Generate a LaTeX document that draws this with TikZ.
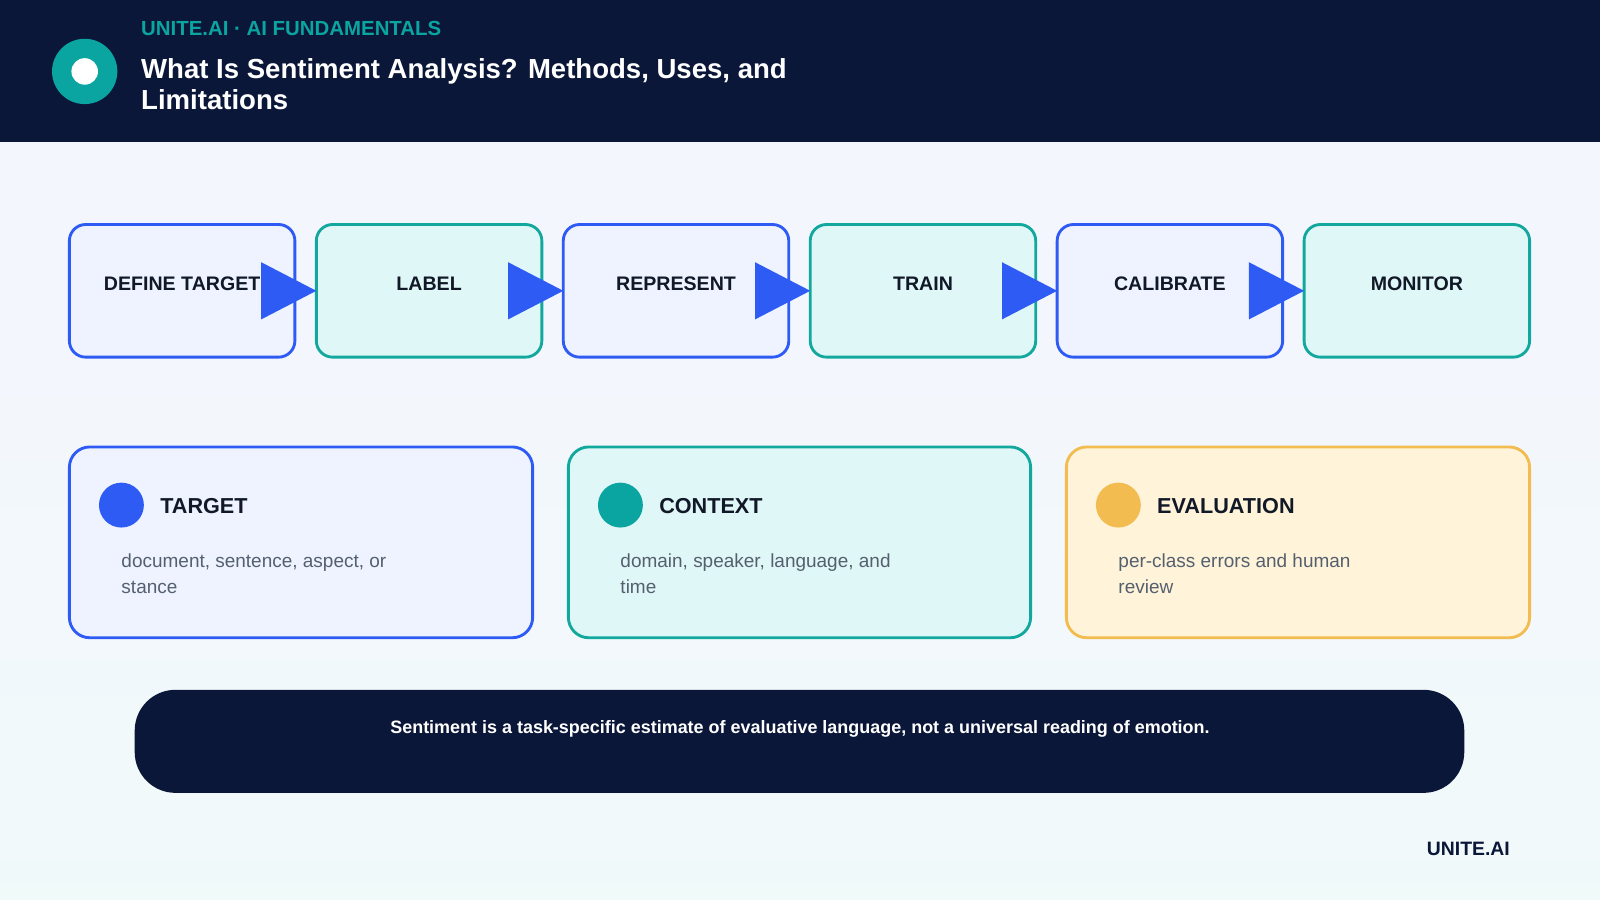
\documentclass[tikz,border=0pt]{standalone}
\usepackage{fontspec}
\setmainfont{Liberation Sans}
\definecolor{navy}{HTML}{0B1739}
\definecolor{teal}{HTML}{0AA5A0}
\definecolor{blueb}{HTML}{2F5BF5}
\definecolor{bluef}{HTML}{EEF3FF}
\definecolor{tealb}{HTML}{12A89E}
\definecolor{tealf}{HTML}{E0F7F7}
\definecolor{orb}{HTML}{F2BC50}
\definecolor{orf}{HTML}{FFF4DA}
\definecolor{txt}{HTML}{111827}
\definecolor{gr}{HTML}{55606E}
\begin{document}
\begin{tikzpicture}[x=0.5pt,y=-0.5pt,
  step/.style={draw=#1b,fill=#1f,line width=1.4pt,rounded corners=8pt},
  stxt/.style={font=\fontsize{9.6}{11}\selectfont\bfseries,text=txt},
  card/.style={draw=#1,line width=1.4pt,rounded corners=10pt},
  ctitle/.style={font=\fontsize{10.6}{12}\selectfont\bfseries,text=txt,anchor=west},
  cbody/.style={font=\fontsize{9.3}{12.5}\selectfont,text=gr,anchor=north west,align=left},
  arr/.style={fill=blueb}]
\useasboundingbox (0,0) rectangle (1568,882);
\shade[top color=blue!4,bottom color=teal!6] (0,0) rectangle (1568,882);
\fill[navy] (0,0) rectangle (1568,139);
\node[circle,fill=teal,minimum size=32pt,inner sep=0] (logo) at (83,70) {};
\node[circle,fill=white,minimum size=13pt,inner sep=0] (logoin) at (83,70) {};
\node[anchor=west,text=teal,font=\fontsize{10}{12}\selectfont\bfseries,inner sep=0] (brand) at (138,28) {UNITE.AI · AI FUNDAMENTALS};
\node[anchor=north west,text=white,font=\fontsize{13.5}{15.3}\selectfont\bfseries,align=left,inner sep=0] (title) at (138,57) {What Is Sentiment Analysis? Methods, Uses, and\\Limitations};
% steps
\foreach \i/\x/\c/\t in {1/68/blue/DEFINE TARGET,2/310/teal/LABEL,3/552/blue/REPRESENT,4/794/teal/TRAIN,5/1036/blue/CALIBRATE,6/1278/teal/MONITOR}{
  \draw[step=\c] (\x,220) rectangle ++(221,130);
  \node[stxt] (s\i) at (\x+110.5,278) {\t};
}
\foreach \x in {256,498,740,982,1224}{
  \fill[arr] (\x,257) -- (\x,313) -- (\x+54,285) -- cycle;
}
% cards
\draw[card=blueb,fill=bluef] (68,438) rectangle (522,625);
\draw[card=tealb,fill=tealf] (557,438) rectangle (1010,625);
\draw[card=orb,fill=orf] (1045,438) rectangle (1499,625);
\fill[blueb] (119,495) circle (22);
\fill[teal] (608,495) circle (22);
\fill[orb] (1096,495) circle (22);
\node[ctitle] (t1) at (150,496) {TARGET};
\node[ctitle] (t2) at (639,496) {CONTEXT};
\node[ctitle] (t3) at (1127,496) {EVALUATION};
\node[cbody] (b1) at (112,536) {document, sentence, aspect, or\\stance};
\node[cbody] (b2) at (601,536) {domain, speaker, language, and\\time};
\node[cbody] (b3) at (1089,536) {per-class errors and human\\review};
% banner
\fill[navy,rounded corners=20pt] (132,676) rectangle (1435,777);
\node[text=white,font=\fontsize{8.8}{10}\selectfont\bfseries] (ban) at (784,714) {Sentiment is a task-specific estimate of evaluative language, not a universal reading of emotion.};
\node[anchor=east,text=navy,font=\fontsize{9.5}{11}\selectfont\bfseries,inner sep=0] (foot) at (1480,832) {UNITE.AI};
\end{tikzpicture}
\end{document}
